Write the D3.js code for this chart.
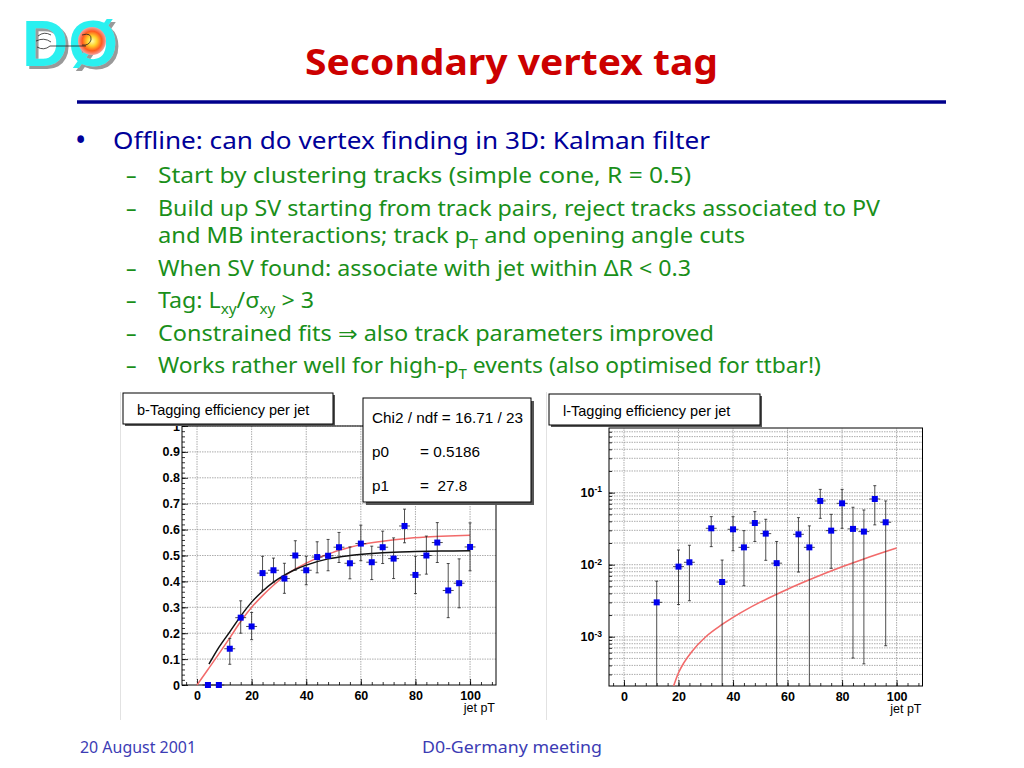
<!DOCTYPE html>
<html>
<head>
<meta charset="utf-8">
<script src="https://cdn.jsdelivr.net/npm/d3@7"></script>
<style>
  body { margin: 0; background: #fff; }
  svg { display: block; }
</style>
</head>
<body>
<svg id="slide" width="1024" height="768"></svg>
<script>
// ---- b-tagging efficiency per jet (left pad) ----
const bPt  = [4, 8, 12, 16, 20, 24, 28, 32, 36, 40, 44, 48, 52, 56, 60, 64, 68, 72, 76, 80, 84, 88, 92, 96, 100];
const bEff = [0, 0, 0.14, 0.26, 0.226, 0.432, 0.443, 0.411, 0.50, 0.443, 0.494, 0.499, 0.532, 0.47, 0.546, 0.474, 0.532, 0.488, 0.614, 0.425, 0.50, 0.55, 0.365, 0.393, 0.533];
const bHi  = [0, 0, 0.18, 0.325, 0.28, 0.497, 0.49, 0.47, 0.557, 0.497, 0.553, 0.562, 0.589, 0.533, 0.617, 0.536, 0.594, 0.568, 0.679, 0.497, 0.575, 0.627, 0.469, 0.487, 0.626];
const bLo  = [0, 0, 0.08, 0.20, 0.175, 0.366, 0.395, 0.354, 0.443, 0.387, 0.433, 0.441, 0.473, 0.41, 0.48, 0.407, 0.469, 0.411, 0.549, 0.353, 0.428, 0.473, 0.26, 0.298, 0.441];

// fitted curve (black) and reference curve (red)
const bFitPt  = [4.4, 8, 12, 16, 20, 24, 28, 32, 36, 40, 48, 56, 64, 72, 80, 90, 100];
const bFitEff = [0.081, 0.145, 0.205, 0.266, 0.32, 0.362, 0.397, 0.424, 0.446, 0.463, 0.487, 0.50, 0.508, 0.513, 0.515, 0.517, 0.518];
const bRefPt  = [0, 4, 8, 12, 16, 20, 24, 28, 32, 36, 40, 44, 48, 52, 56, 60, 68, 76, 84, 92, 100];
const bRefEff = [0, 0.06, 0.12, 0.182, 0.245, 0.30, 0.345, 0.385, 0.42, 0.448, 0.47, 0.49, 0.505, 0.52, 0.532, 0.542, 0.555, 0.565, 0.571, 0.575, 0.578];

const statsTitle  = "Chi2 / ndf = 16.71 / 23";
const statsNames  = ["p0", "p1"];
const statsValues = ["0.5186", " 27.8"];

// ---- l-tagging efficiency per jet (right pad, log y) ----
const lPt  = [12, 20, 24, 32, 36, 40, 44, 48, 52, 56, 64, 68, 72, 76, 80, 84, 88, 92, 96];
const lEff = [3.0e-3, 9.4e-3, 0.0108, 0.032, 5.75e-3, 0.031, 0.0174, 0.0379, 0.027, 0.0105, 0.0264, 0.0174, 0.0767, 0.0297, 0.0711, 0.0314, 0.0288, 0.0817, 0.0388];
const lHi  = [5.9e-3, 0.016, 0.0186, 0.0465, 0.0116, 0.0464, 0.0297, 0.0545, 0.0427, 0.021, 0.045, 0.0346, 0.111, 0.05, 0.111, 0.0627, 0.0575, 0.125, 0.0767];
const lLo  = [1e-4, 2.8e-3, 3.16e-3, 0.0178, 1e-4, 0.0156, 5.1e-3, 0.021, 0.0115, 1e-4, 7.9e-3, 1e-4, 0.044, 8.9e-3, 0.032, 5.06e-4, 4.2e-4, 0.0357, 7.5e-4];

const lRefPt  = [18.2, 20, 22, 25, 30, 36, 40, 45, 50, 56, 60, 68, 80, 88, 100];
const lRefEff = [2.07e-4, 3.16e-4, 4.37e-4, 6.3e-4, 1.0e-3, 1.48e-3, 1.86e-3, 2.4e-3, 3.02e-3, 3.89e-3, 4.57e-3, 6.17e-3, 9.33e-3, 0.012, 0.017];

// ---- slide text ----
const slideTitle = "Secondary vertex tag";
const bulletLines = [
  { level: 0, parts: ["Offline: can do vertex finding in 3D: Kalman filter"] },
  { level: 1, parts: ["Start by clustering tracks (simple cone, R = 0.5)"] },
  { level: 1, parts: ["Build up SV starting from track pairs, reject tracks associated to PV"] },
  { level: 1, cont: true, parts: ["and MB interactions; track p", { sub: "T" }, " and opening angle cuts"] },
  { level: 1, parts: ["When SV found: associate with jet within \u0394R < 0.3"] },
  { level: 1, parts: ["Tag: L", { sub: "xy" }, "/\u03c3", { sub: "xy" }, " > 3"] },
  { level: 1, parts: ["Constrained fits \u21d2 also track parameters improved"] },
  { level: 1, parts: ["Works rather well for high-p", { sub: "T" }, " events (also optimised for ttbar!)"] }
];
const lineBaselines = [149, 183, 216, 243, 276, 308, 341, 373];
const lineWidths = [597, 533, 722, 587, 533, 156, 556, 663];
const footerLeft = "20 August 2001";
const footerCenter = "D0-Germany meeting";

const svg = d3.select("#slide");
const ROOT_FONT = "'Liberation Sans', Arial, sans-serif";
const BODY_FONT = "'Noto Sans', 'DejaVu Sans', sans-serif";

// ---------------- logo ----------------
const defs = svg.append("defs");
const sun = defs.append("radialGradient").attr("id", "sun");
sun.append("stop").attr("offset", "0%").attr("stop-color", "#ffffb0");
sun.append("stop").attr("offset", "35%").attr("stop-color", "#ffd22a");
sun.append("stop").attr("offset", "70%").attr("stop-color", "#ff5a1e");
sun.append("stop").attr("offset", "100%").attr("stop-color", "#f4a0a0");
const shadow = defs.append("filter").attr("id", "logoShadow");
shadow.append("feDropShadow").attr("dx", 3).attr("dy", 3).attr("stdDeviation", 0.6)
  .attr("flood-color", "#999").attr("flood-opacity", 1);

const logo = svg.append("g");
logo.append("text").attr("x", 22).attr("y", 66).attr("font-family", ROOT_FONT)
  .attr("font-weight", "bold").attr("font-size", 64).attr("fill", "#2cf0f0")
  .attr("filter", "url(#logoShadow)").text("D\u00d8");
logo.append("circle").attr("cx", 92).attr("cy", 41).attr("r", 14).attr("fill", "url(#sun)");
logo.append("path")
  .attr("d", "M38,36 q6,-5 13,-1 M36,41 q8,-4 15,1 M37,47 q7,4 13,-1 M50,46 L86,46 M82,35 q10,-3 9,5 q-2,6 -9,5")
  .attr("fill", "none").attr("stroke", "#222").attr("stroke-width", 0.8);

// ---------------- title + rule ----------------
svg.append("text").attr("x", 305).attr("y", 75)
  .attr("font-family", BODY_FONT).attr("font-weight", "bold").attr("font-size", 35)
  .attr("fill", "#cc0000").attr("textLength", 413).attr("lengthAdjust", "spacingAndGlyphs")
  .text(slideTitle);
svg.append("line").attr("x1", 77).attr("x2", 946).attr("y1", 102).attr("y2", 102)
  .attr("stroke", "#00008c").attr("stroke-width", 3.5);

// ---------------- bullets ----------------
function richText(g, parts, x, y, size, color, width) {
  const t = g.append("text").attr("x", x).attr("y", y)
    .attr("font-family", BODY_FONT).attr("font-size", size).attr("fill", color)
    .attr("textLength", width).attr("lengthAdjust", "spacingAndGlyphs");
  let shifted = false;
  parts.forEach(p => {
    if (typeof p === "string") {
      t.append("tspan").attr("dy", shifted ? -0.28 * size : 0).text(p);
      shifted = false;
    } else {
      t.append("tspan").attr("dy", 0.28 * size).attr("font-size", size * 0.66).text(p.sub);
      shifted = true;
    }
  });
  return t;
}

const body = svg.append("g");
bulletLines.forEach((ln, i) => {
  const main = ln.level === 0;
  const color = main ? "#000099" : "#1a8f1a";
  const size = main ? 23 : 21;
  if (!ln.cont) {
    body.append("text").attr("x", main ? 75 : 126).attr("y", lineBaselines[i] + (main ? 2 : 0))
      .attr("font-family", BODY_FONT).attr("font-size", main ? 30 : 21).attr("fill", color)
      .text(main ? "\u2022" : "\u2013");
  }
  richText(body, ln.parts, main ? 113 : 158, lineBaselines[i], size, color, lineWidths[i]);
});

// ---------------- footer ----------------
svg.append("text").attr("x", 80).attr("y", 753).attr("font-family", BODY_FONT).attr("font-size", 16)
  .attr("fill", "#3c3cb4").attr("textLength", 116).attr("lengthAdjust", "spacingAndGlyphs").text(footerLeft);
svg.append("text").attr("x", 422).attr("y", 753).attr("font-family", BODY_FONT).attr("font-size", 16)
  .attr("fill", "#3c3cb4").attr("textLength", 180).attr("lengthAdjust", "spacingAndGlyphs").text(footerCenter);

// ---------------- shared plot helpers ----------------
function styleAxis(g, bold) {
  g.select(".domain").remove();
  g.selectAll(".tick line").attr("stroke", "#000").attr("stroke-width", 0.8);
  g.selectAll(".tick text").attr("font-family", ROOT_FONT).attr("font-size", 12.5)
    .attr("font-weight", bold ? "bold" : "normal").attr("fill", "#000");
}

function titleBox(g, x, y, w, h, label) {
  g.append("rect").attr("x", x + 2).attr("y", y + 2).attr("width", w).attr("height", h).attr("fill", "#555");
  g.append("rect").attr("x", x).attr("y", y).attr("width", w).attr("height", h)
    .attr("fill", "#fff").attr("stroke", "#000").attr("stroke-width", 1);
  g.append("text").attr("x", x + 14).attr("y", y + 22).attr("font-family", ROOT_FONT)
    .attr("font-size", 14.5).attr("fill", "#000").text(label);
}

function errorPoints(g, x, y, pts, eff, lo, hi) {
  const pg = g.append("g");
  pts.forEach((p, i) => {
    const cx = x(p), cy = y(eff[i]);
    if (hi[i] !== lo[i]) {
      pg.append("line").attr("x1", cx).attr("x2", cx).attr("y1", y(lo[i])).attr("y2", y(hi[i]))
        .attr("stroke", "#222").attr("stroke-width", 0.8);
      [hi[i], lo[i]].forEach(v => {
        if (y(v) > y.range()[0] - 0.5) return;
        pg.append("line").attr("x1", cx - 1.5).attr("x2", cx + 1.5).attr("y1", y(v)).attr("y2", y(v))
          .attr("stroke", "#222").attr("stroke-width", 0.8);
      });
    }
    pg.append("line").attr("x1", x(p - 2)).attr("x2", x(p + 2)).attr("y1", cy).attr("y2", cy)
      .attr("stroke", "#222").attr("stroke-width", 0.8);
    pg.append("rect").attr("x", cx - 3).attr("y", cy - 3).attr("width", 6).attr("height", 6).attr("fill", "#0000ee");
  });
}

const gridStyle = sel => sel.attr("stroke", "#8a8a8a").attr("stroke-width", 0.7).attr("stroke-dasharray", "1.5,1");
const xMinor = d3.range(-4, 110, 4);

// ---------------- left pad ----------------
const gL = svg.append("g");
gL.append("line").attr("x1", 120.5).attr("x2", 120.5).attr("y1", 392).attr("y2", 720).attr("stroke", "#e2e2e2");

const xL = d3.scaleLinear().domain([-5.5, 109.5]).range([182, 496]);
const yL = d3.scaleLinear().domain([0, 1]).range([685, 426]);

gL.append("g").selectAll("line").data(xL.ticks(6)).join("line")
  .attr("x1", d => xL(d)).attr("x2", d => xL(d)).attr("y1", yL(0)).attr("y2", yL(1)).call(gridStyle);
gL.append("g").selectAll("line").data(yL.ticks(10).filter(d => d > 0)).join("line")
  .attr("x1", xL.range()[0]).attr("x2", xL.range()[1]).attr("y1", d => yL(d)).attr("y2", d => yL(d)).call(gridStyle);

gL.append("g").attr("transform", `translate(0,${yL(0)})`)
  .call(d3.axisBottom(xL).tickValues(xMinor).tickSize(-3).tickFormat("")).call(g => styleAxis(g, true));
gL.append("g").attr("transform", `translate(0,${yL(0)})`)
  .call(d3.axisBottom(xL).tickValues(xL.ticks(6)).tickSize(-6).tickPadding(6).tickFormat(d3.format("d")))
  .call(g => styleAxis(g, true));
gL.append("g").attr("transform", `translate(${xL.range()[0]},0)`)
  .call(d3.axisLeft(yL).tickValues(d3.range(0, 1.001, 0.02)).tickSize(-3).tickFormat("")).call(g => styleAxis(g, true));
gL.append("g").attr("transform", `translate(${xL.range()[0]},0)`)
  .call(d3.axisLeft(yL).ticks(10).tickSize(-6).tickPadding(2).tickFormat(d3.format(".1~f")))
  .call(g => styleAxis(g, true));

gL.append("rect").attr("x", xL.range()[0]).attr("y", yL(1)).attr("width", xL.range()[1] - xL.range()[0])
  .attr("height", yL(0) - yL(1)).attr("fill", "none").attr("stroke", "#000").attr("stroke-width", 1);

const lineL = d3.line().x(d => xL(d[0])).y(d => yL(d[1])).curve(d3.curveMonotoneX);
gL.append("path").datum(d3.zip(bRefPt, bRefEff)).attr("d", lineL)
  .attr("fill", "none").attr("stroke", "#f26a6a").attr("stroke-width", 1.5);
gL.append("path").datum(d3.zip(bFitPt, bFitEff)).attr("d", lineL)
  .attr("fill", "none").attr("stroke", "#111").attr("stroke-width", 1.5);

errorPoints(gL, xL, yL, bPt, bEff, bLo, bHi);

gL.append("text").attr("x", xL.range()[1] - 1).attr("y", 712).attr("text-anchor", "end")
  .attr("font-family", ROOT_FONT).attr("font-size", 12.5).text("jet pT");

titleBox(gL, 123, 393, 210, 31, "b-Tagging efficiency per jet");

// stats box
const sb = gL.append("g");
sb.append("rect").attr("x", 366).attr("y", 401).attr("width", 168).attr("height", 104).attr("fill", "#555");
sb.append("rect").attr("x", 363).attr("y", 398).attr("width", 168).attr("height", 104)
  .attr("fill", "#fff").attr("stroke", "#000");
sb.append("text").attr("x", 372).attr("y", 423).attr("font-family", ROOT_FONT).attr("font-size", 15.3).text(statsTitle);
statsNames.forEach((n, i) => {
  const yy = 457 + i * 34;
  sb.append("text").attr("x", 372).attr("y", yy).attr("font-family", ROOT_FONT).attr("font-size", 15.3).text(n);
  sb.append("text").attr("x", 420).attr("y", yy).attr("font-family", ROOT_FONT).attr("font-size", 15.3)
    .attr("xml:space", "preserve").text("= " + statsValues[i]);
});

// ---------------- right pad ----------------
const gR = svg.append("g");
gR.append("line").attr("x1", 546.5).attr("x2", 546.5).attr("y1", 392).attr("y2", 720).attr("stroke", "#e2e2e2");

const xR = d3.scaleLinear().domain([-5.5, 109.5]).range([609, 922.5]);
const yR = d3.scaleLog().domain([2.07e-4, 0.79]).range([686, 428]).clamp(true);
const decades = [1e-3, 1e-2, 1e-1];

gR.append("g").selectAll("line").data(xR.ticks(6)).join("line")
  .attr("x1", d => xR(d)).attr("x2", d => xR(d)).attr("y1", yR.range()[0]).attr("y2", yR.range()[1]).call(gridStyle);
gR.append("g").selectAll("line").data(yR.ticks()).join("line")
  .attr("x1", xR.range()[0]).attr("x2", xR.range()[1]).attr("y1", d => yR(d)).attr("y2", d => yR(d)).call(gridStyle);

gR.append("g").attr("transform", `translate(0,${yR.range()[0]})`)
  .call(d3.axisBottom(xR).tickValues(xMinor).tickSize(-3).tickFormat("")).call(g => styleAxis(g, true));
gR.append("g").attr("transform", `translate(0,${yR.range()[0]})`)
  .call(d3.axisBottom(xR).tickValues(xR.ticks(6)).tickSize(-6).tickPadding(6).tickFormat(d3.format("d")))
  .call(g => styleAxis(g, true));
gR.append("g").attr("transform", `translate(${xR.range()[0]},0)`)
  .call(d3.axisLeft(yR).tickValues(yR.ticks()).tickSize(-3).tickFormat("")).call(g => styleAxis(g, true));
gR.append("g").attr("transform", `translate(${xR.range()[0]},0)`)
  .call(d3.axisLeft(yR).tickValues(decades).tickSize(-6).tickPadding(7).tickFormat(() => "10"))
  .call(g => styleAxis(g, true))
  .call(g => g.selectAll(".tick text").each(function (d) {
    d3.select(this).append("tspan").attr("dy", "-0.55em").attr("font-size", 8.5)
      .text(Math.round(Math.log10(d)));
  }));

gR.append("rect").attr("x", xR.range()[0]).attr("y", yR.range()[1]).attr("width", xR.range()[1] - xR.range()[0])
  .attr("height", yR.range()[0] - yR.range()[1]).attr("fill", "none").attr("stroke", "#000").attr("stroke-width", 1);

const lineR = d3.line().x(d => xR(d[0])).y(d => yR(d[1])).curve(d3.curveMonotoneX);
gR.append("path").datum(d3.zip(lRefPt, lRefEff)).attr("d", lineR)
  .attr("fill", "none").attr("stroke", "#f26a6a").attr("stroke-width", 1.6);

errorPoints(gR, xR, yR, lPt, lEff, lLo, lHi);

gR.append("text").attr("x", xR.range()[1] - 1).attr("y", 713).attr("text-anchor", "end")
  .attr("font-family", ROOT_FONT).attr("font-size", 12.5).text("jet pT");

titleBox(gR, 549, 394, 211, 31, "l-Tagging efficiency per jet");
</script>
</body>
</html>
